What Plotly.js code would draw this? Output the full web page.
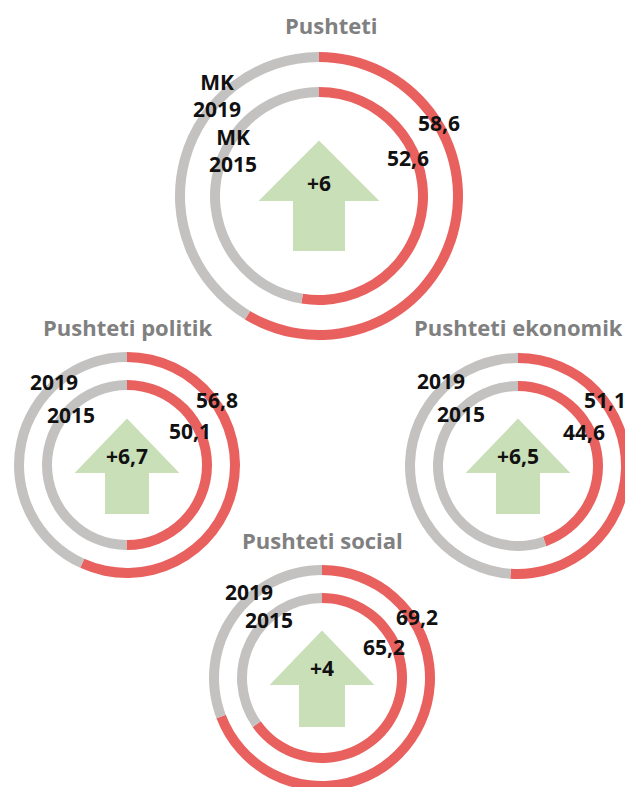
<!DOCTYPE html>
<html>
<head>
<meta charset="utf-8">
<script src="https://cdn.plot.ly/plotly-3.0.1.min.js"></script>
<style>
html,body{margin:0;padding:0;overflow:hidden;background:#fff;}
#chart{width:640px;height:800px;}
</style>
</head>
<body>
<div id="chart"></div>
<script>
// ---- data ----
var categories = ["Pushteti", "Pushteti politik", "Pushteti ekonomik", "Pushteti social"];
var values2019 = [58.6, 56.8, 51.1, 69.2];
var values2015 = [52.6, 50.1, 44.6, 65.2];
var changeLabels = ["+6", "+6,7", "+6,5", "+4"];
var yearLabels2019 = ["MK<br>2019", "2019", "2019", "2019"];
var yearLabels2015 = ["MK<br>2015", "2015", "2015", "2015"];

// ---- layout geometry (pixels) ----
var W = 640, H = 800;
var panels = [
  {cx:319, cy:196, R:144, r:109, th:10, title:[331,25], arrow:{tip:-54, base:4, hw:58, sw:25, bot:54, txt:-13},
   l19:[217,95], l15:[233,151], v19:[439,123], v15:[408,158]},
  {cx:127, cy:465, R:113, r:85, th:10, title:[127,327], arrow:{tip:-45, base:7, hw:50, sw:21, bot:48, txt:-9},
   l19:[54,382], l15:[71,415], v19:[217,400], v15:[190,431]},
  {cx:518, cy:466, R:113, r:85, th:10, title:[518,327], arrow:{tip:-46, base:6, hw:50, sw:21, bot:47, txt:-10},
   l19:[441,381], l15:[461,414], v19:[605,400], v15:[584,432]},
  {cx:322, cy:678, R:113, r:85, th:10, title:[322,540], arrow:{tip:-46, base:6, hw:50, sw:22, bot:48, txt:-10},
   l19:[249,592], l15:[269,620], v19:[417,617], v15:[384,647]}
];

var RED = "#e8615f", GREY = "#c4c2c0", GREEN = "#c8dfb8", TITLE = "#808080", TXT = "#111111";
var FONT = "Open Sans, Noto Sans, sans-serif";

function px(x){ return x / W; }
function py(y){ return 1 - y / H; }
function fmt(v){ return v.toFixed(1).replace('.', ','); }

var traces = [], shapes = [], annotations = [];

function ring(p, val, Rout, name){
  return {
    type: 'pie',
    values: [val, 100 - val],
    labels: [name + ' a', name + ' b'],
    marker: {colors: [RED, GREY], line: {width: 0}},
    hole: (Rout - p.th) / Rout,
    sort: false,
    direction: 'clockwise',
    rotation: 0,
    textinfo: 'none',
    hoverinfo: 'none',
    showlegend: false,
    domain: {x: [px(p.cx - Rout), px(p.cx + Rout)], y: [py(p.cy + Rout), py(p.cy - Rout)]}
  };
}

function ann(text, x, y, color, size){
  return {text: '<b>' + text + '</b>', x: px(x), y: py(y), xref: 'paper', yref: 'paper',
    xanchor: 'center', yanchor: 'middle', showarrow: false,
    font: {family: FONT, size: size || 21, color: color || TXT}};
}

for (var i = 0; i < categories.length; i++) {
  var p = panels[i];
  traces.push(ring(p, values2019[i], p.R, categories[i] + ' 2019'));
  traces.push(ring(p, values2015[i], p.r, categories[i] + ' 2015'));

  var a = p.arrow, cx = p.cx, cy = p.cy;
  var pts = [[cx, cy + a.tip], [cx + a.hw, cy + a.base], [cx + a.sw, cy + a.base], [cx + a.sw, cy + a.bot],
             [cx - a.sw, cy + a.bot], [cx - a.sw, cy + a.base], [cx - a.hw, cy + a.base]];
  var path = 'M ' + pts.map(function(q){ return px(q[0]) + ',' + py(q[1]); }).join(' L ') + ' Z';
  shapes.push({type: 'path', xref: 'paper', yref: 'paper', path: path,
    fillcolor: GREEN, line: {color: GREEN, width: 2}, layer: 'above'});

  annotations.push(ann(changeLabels[i], cx, cy + a.txt));
  annotations.push(ann(categories[i], p.title[0], p.title[1], TITLE, 22));
  annotations.push(ann(yearLabels2019[i], p.l19[0], p.l19[1]));
  annotations.push(ann(yearLabels2015[i], p.l15[0], p.l15[1]));
  annotations.push(ann(fmt(values2019[i]), p.v19[0], p.v19[1]));
  annotations.push(ann(fmt(values2015[i]), p.v15[0], p.v15[1]));
}

var layout = {
  width: W, height: H,
  margin: {l: 0, r: 0, t: 0, b: 0},
  paper_bgcolor: '#ffffff',
  plot_bgcolor: '#ffffff',
  showlegend: false,
  shapes: shapes,
  annotations: annotations
};

Plotly.newPlot('chart', traces, layout, {displayModeBar: false, staticPlot: true});
</script>
</body>
</html>
